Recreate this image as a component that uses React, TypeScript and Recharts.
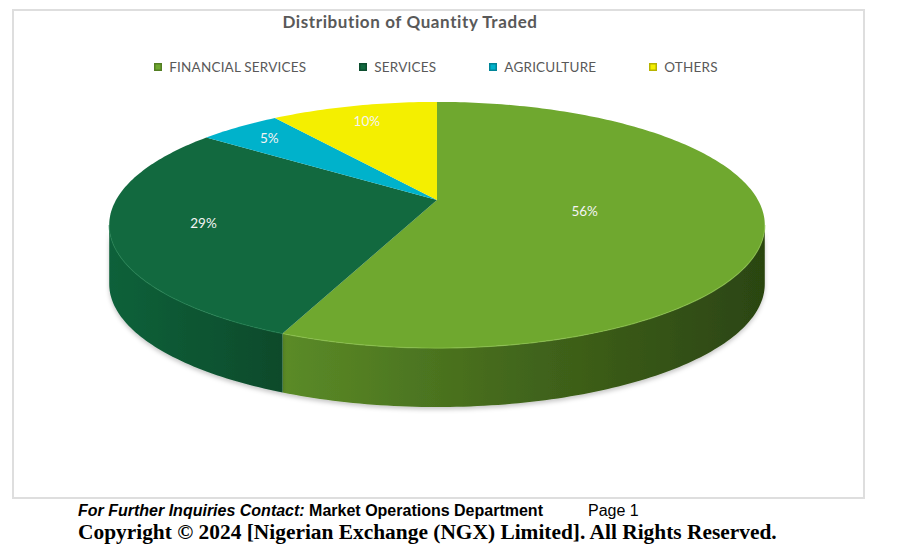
import React from 'react';
import { PieChart, Pie, Cell } from 'recharts';

// ---- data ----
const categories = ['FINANCIAL SERVICES', 'SERVICES', 'AGRICULTURE', 'OTHERS'];
const shares = [56.4, 28.7, 4.9, 10.0];
const topColors = ['#6FA82F', '#12693F', '#00B2CB', '#F4EF00'];
const sideLight = ['#5B8B27', '#10613A', '#009AB0', '#D6D100'];
const sideMid = ['#44691C', '#0D5733', '#008A9E', '#C4C000'];
const sideDark = ['#2B4511', '#0A4A2B', '#007A8C', '#B0AC00'];
const rimColors = ['#8CC24C', '#1F7E4F', '#3CC8DC', '#FFFA60'];

const title = 'Distribution of Quantity Traded';

const rows = categories.map((name, i) => ({ name, value: shares[i] }));

// ---- 3D projection geometry ----
const ASPECT_X = 2.72; // horizontal stretch of the disc relative to outer radius
const PERSP = 0.203; // perspective strength (front is larger)
const DEPTH = 59; // thickness of the slab in px

function proj(cx: number, cy: number, r: number, thetaDeg: number, f = 1, dz = 0): [number, number] {
  const t = (thetaDeg * Math.PI) / 180;
  const u = f * Math.sin(t);
  const v = -f * Math.cos(t);
  const w = 1 - PERSP * v;
  return [cx + (r * ASPECT_X * u) / w, cy + (r * v) / w + dz];
}

function rimPoints(cx: number, cy: number, r: number, a: number, b: number, dz = 0) {
  const pts: [number, number][] = [];
  const n = Math.max(2, Math.ceil(Math.abs(b - a) / 1));
  for (let i = 0; i <= n; i++) {
    const th = a + ((b - a) * i) / n;
    pts.push(proj(cx, cy, r, th, 1, dz));
  }
  return pts;
}

const toD = (pts: [number, number][]) =>
  pts.map((p, i) => `${i ? 'L' : 'M'}${p[0].toFixed(2)},${p[1].toFixed(2)}`).join(' ');

// visible front wall between the horizontal extremes of the rim
const VIS0 = (Math.acos(-PERSP) * 180) / Math.PI; // ~101.7
const VIS1 = 360 - VIS0; // ~258.3

const Slice3D = (props: any) => {
  const { cx, cy, outerRadius, startAngle, endAngle } = props;
  const name = props.name ?? props.payload?.name;
  const idx = Math.max(0, categories.indexOf(name));
  const th0 = 90 - startAngle;
  const th1 = 90 - endAngle;
  const a = Math.min(th0, th1);
  const b = Math.max(th0, th1);
  const top = rimPoints(cx, cy, outerRadius, a, b);
  const topD = `M${cx},${cy} ` + toD(top).replace(/^M/, 'L') + ' Z';

  const s0 = Math.max(a, VIS0);
  const s1 = Math.min(b, VIS1);
  let side = null;
  let rim = null;
  if (s1 > s0) {
    const upper = rimPoints(cx, cy, outerRadius, s0, s1);
    const lower = rimPoints(cx, cy, outerRadius, s0, s1, DEPTH).reverse();
    const d = toD(upper) + ' ' + toD(lower).replace(/^M/, 'L') + ' Z';
    const gid = `side-grad-${idx}`;
    const fid = `side-shadow-${idx}`;
    side = (
      <g>
        <defs>
          <linearGradient id={gid} x1="0" y1="0" x2="1" y2="0">
            <stop offset="0%" stopColor={sideLight[idx]} />
            <stop offset="45%" stopColor={sideMid[idx]} />
            <stop offset="100%" stopColor={sideDark[idx]} />
          </linearGradient>
          <filter id={fid} x="-5%" y="-10%" width="110%" height="130%">
            <feDropShadow dx="0" dy="2.5" stdDeviation="2" floodColor="#000" floodOpacity="0.22" />
          </filter>
        </defs>
        <path d={d} fill={`url(#${gid})`} stroke="none" filter={`url(#${fid})`} />
      </g>
    );
    rim = <path d={toD(upper)} fill="none" stroke={rimColors[idx]} strokeWidth={1.2} strokeOpacity={0.7} />;
  }
  return (
    <g>
      {side}
      <path d={topD} fill={topColors[idx]} stroke="none" />
      {rim}
    </g>
  );
};

const renderLabel = (p: any) => {
  const th0 = 90 - p.startAngle;
  const th1 = 90 - p.endAngle;
  const half = (Math.abs(th1 - th0) / 2) * (Math.PI / 180);
  const f = Math.min(0.85, (1.25 * 2 * Math.sin(half)) / (3 * half));
  const [x, y] = proj(p.cx, p.cy, p.outerRadius, (th0 + th1) / 2, f);
  return (
    <text
      x={x}
      y={y}
      fill="#F4F4F4"
      textAnchor="middle"
      dominantBaseline="central"
      fontFamily="Lato, 'Noto Sans', sans-serif"
      fontSize={13.5}
    >
      {`${Math.round(p.percent * 100)}%`}
    </text>
  );
};

export default function App() {
  return (
    <div style={{ position: 'absolute', left: 0, top: 0, width: 900, height: 556, background: '#fff', overflow: 'hidden' }}>
      {/* chart frame */}
      <div
        style={{
          position: 'absolute',
          left: 12,
          top: 9,
          width: 849,
          height: 486,
          border: '2px solid #DEDEDE',
        }}
      />
      {/* title */}
      <div
        style={{
          position: 'absolute',
          left: 210,
          width: 400,
          top: 11,
          textAlign: 'center',
          fontFamily: "Lato, 'Noto Sans', sans-serif",
          fontWeight: 700,
          fontSize: 17,
          letterSpacing: 0.6,
          color: '#595959',
          lineHeight: '22px',
        }}
      >
        {title}
      </div>
      {/* legend */}
      <div
        style={{
          position: 'absolute',
          left: 0,
          width: 872,
          top: 59,
          display: 'flex',
          justifyContent: 'center',
          gap: 53,
        }}
      >
        {categories.map((c, i) => (
          <div key={c} style={{ display: 'flex', alignItems: 'center' }}>
            <span
              style={{
                display: 'inline-block',
                width: 8,
                height: 8,
                marginRight: 7,
                background: topColors[i],
                boxShadow: 'inset 0 0 0 1.5px rgba(0,0,0,0.25)',
              }}
            />
            <span
              style={{
                fontFamily: "Lato, 'Noto Sans', sans-serif",
                fontSize: 13.5,
                letterSpacing: 0.2,
                color: '#595959',
                lineHeight: '16px',
              }}
            >
              {c}
            </span>
          </div>
        ))}
      </div>
      <div style={{ position: 'absolute', left: 0, top: 0 }}>
        <PieChart width={900} height={556} margin={{ top: 0, right: 0, bottom: 0, left: 0 }}>
          <Pie
            data={rows}
            dataKey="value"
            nameKey="name"
            cx={437}
            cy={200}
            outerRadius={118}
            startAngle={90}
            endAngle={-270}
            stroke="none"
            isAnimationActive={false}
            shape={Slice3D}
            label={renderLabel}
            labelLine={false}
          >
            {rows.map((r, i) => (
              <Cell key={r.name} fill={topColors[i]} />
            ))}
          </Pie>
        </PieChart>
      </div>
      {/* footer */}
      <div
        style={{
          position: 'absolute',
          left: 78,
          top: 501,
          whiteSpace: 'nowrap',
          fontFamily: "'Liberation Sans', Arial, sans-serif",
          fontSize: 16,
          lineHeight: '20px',
          color: '#000',
        }}
      >
        <span style={{ fontWeight: 700, fontStyle: 'italic' }}>For Further Inquiries Contact:</span>
        <span style={{ fontWeight: 700 }}> Market Operations Department</span>
        <span style={{ display: 'inline-block', width: 45 }} />
        <span>Page 1</span>
      </div>
      <div
        style={{
          position: 'absolute',
          left: 78,
          top: 520,
          whiteSpace: 'nowrap',
          fontFamily: "'Liberation Serif', 'Times New Roman', serif",
          fontWeight: 700,
          fontSize: 21.4,
          lineHeight: '24px',
          color: '#000',
        }}
      >
        Copyright © 2024 [Nigerian Exchange (NGX) Limited]. All Rights Reserved.
      </div>
    </div>
  );
}
